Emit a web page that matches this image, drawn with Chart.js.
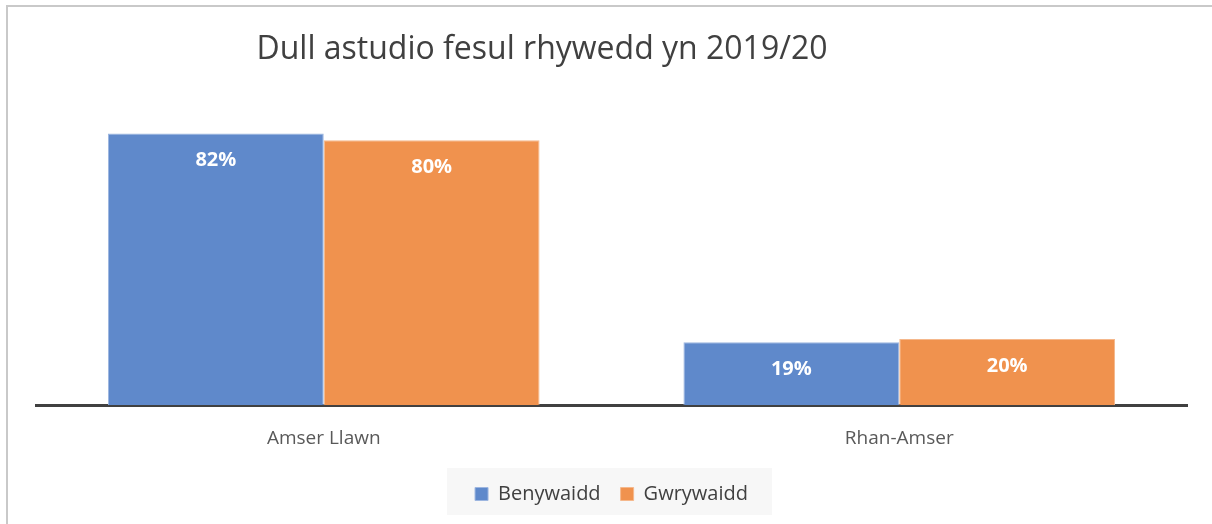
<!DOCTYPE html>
<html>
<head>
<meta charset="utf-8">
<script src="https://cdn.jsdelivr.net/npm/chart.js@4.4.0/dist/chart.umd.min.js"></script>
<style>
  html, body { margin: 0; padding: 0; background: #fff; }
  #wrap { position: relative; width: 1212px; height: 524px; overflow: hidden; }
  #frame { position: absolute; left: 6px; top: 5px; width: 1300px; height: 600px;
           border-left: 2px solid #c9c9c9; border-top: 2px solid #c9c9c9; }
  #myChart { position: absolute; left: 0; top: 0; }
</style>
</head>
<body>
<div id="wrap">
  <div id="frame"></div>
  <canvas id="myChart" width="1212" height="524"></canvas>
</div>
<script>
const titleText = 'Dull astudio fesul rhywedd yn 2019/20';
const categories = ['Amser Llawn', 'Rhan-Amser'];
const seriesNames = ['Benywaidd', 'Gwrywaidd'];
const benywaidd = [82, 19];
const gwrywaidd = [80, 20];

const fontFam = '"Open Sans", "Noto Sans", sans-serif';

// title drawn off-centre like the original
const titlePlugin = {
  id: 'titleText',
  afterDraw(chart) {
    const ctx = chart.ctx;
    ctx.save();
    ctx.font = '32px ' + fontFam;
    ctx.fillStyle = '#404040';
    ctx.textAlign = 'center';
    ctx.textBaseline = 'middle';
    ctx.fillText(titleText, 542, 50);
    ctx.restore();
  }
};

// grey box behind the legend
const legendBox = {
  id: 'legendBox',
  beforeDraw(chart) {
    const lg = chart.legend;
    if (!lg || !lg.legendHitBoxes.length) return;
    const boxes = lg.legendHitBoxes;
    const left = Math.min(...boxes.map(b => b.left)) - 28;
    const right = Math.max(...boxes.map(b => b.left + b.width)) + 24;
    const ctx = chart.ctx;
    ctx.save();
    ctx.fillStyle = '#f7f7f7';
    ctx.fillRect(left, 468, right - left, 47);
    ctx.restore();
  }
};

// white value labels inside the bars
const valueLabels = {
  id: 'valueLabels',
  afterDatasetsDraw(chart) {
    const ctx = chart.ctx;
    ctx.save();
    ctx.font = 'bold 20px ' + fontFam;
    ctx.fillStyle = '#ffffff';
    ctx.textAlign = 'center';
    ctx.textBaseline = 'middle';
    chart.data.datasets.forEach(function (ds, i) {
      chart.getDatasetMeta(i).data.forEach(function (bar, j) {
        ctx.fillText(ds.data[j] + '%', bar.x, bar.y + 27);
      });
    });
    ctx.restore();
  }
};

const ctx = document.getElementById('myChart').getContext('2d');
const myChart = new Chart(ctx, {
  type: 'bar',
  data: {
    labels: categories,
    datasets: [
      {
        label: seriesNames[0],
        data: benywaidd,
        backgroundColor: '#5f89cb',
        borderColor: '#9db6e0',
        borderWidth: 1
      },
      {
        label: seriesNames[1],
        data: gwrywaidd,
        backgroundColor: '#f0924e',
        borderColor: '#f5b88c',
        borderWidth: 1
      }
    ]
  },
  options: {
    responsive: false,
    animation: false,
    devicePixelRatio: 1,
    layout: { padding: { left: 36, right: 25, top: 74, bottom: 10 } },
    datasets: { bar: { categoryPercentage: 0.75, barPercentage: 1 } },
    scales: {
      x: {
        grid: { display: false },
        border: { color: '#404040', width: 3 },
        ticks: { color: '#595959', font: { family: fontFam, size: 19 }, padding: 14 }
      },
      y: { display: false, min: 0, max: 100 }
    },
    plugins: {
      legend: {
        position: 'bottom',
        labels: {
          color: '#404040',
          boxWidth: 13,
          boxHeight: 13,
          padding: 20,
          font: { family: fontFam, size: 20 }
        }
      },
      tooltip: { enabled: false }
    }
  },
  plugins: [legendBox, valueLabels, titlePlugin]
});
</script>
</body>
</html>
